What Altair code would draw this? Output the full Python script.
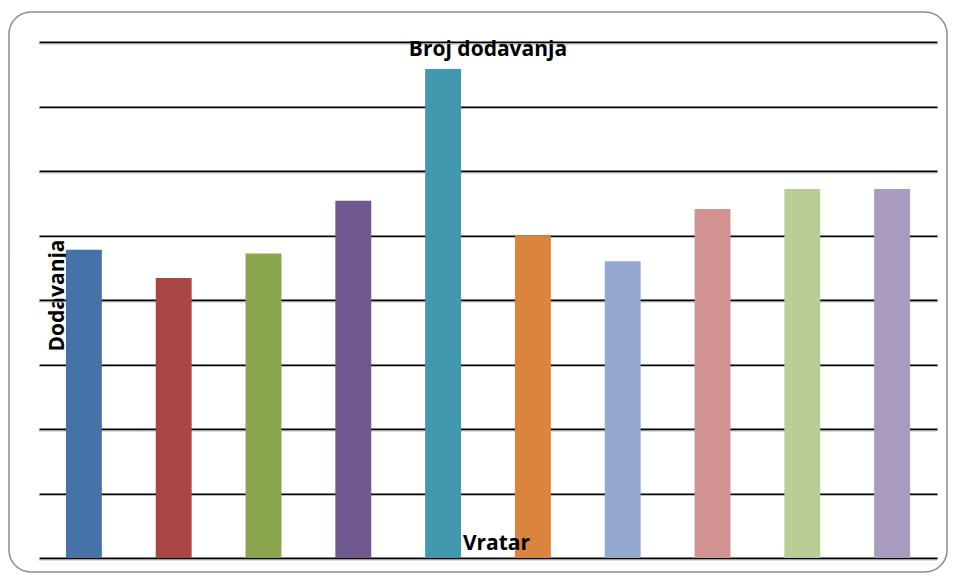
import altair as alt
import pandas as pd

vratari = ["V1", "V2", "V3", "V4", "V5", "V6", "V7", "V8", "V9", "V10"]
dodavanja = [23.9, 21.7, 23.6, 27.7, 37.9, 25.0, 23.0, 27.05, 28.6, 28.6]
boje = ["#4572A7", "#AA4643", "#89A54E", "#71588F", "#4198AF",
        "#DB843D", "#93A9CF", "#D19392", "#B9CD96", "#A99BBD"]
y_ticks = [0, 5, 10, 15, 20, 25, 30, 35, 40]

df = pd.DataFrame({"Vratar": vratari, "Dodavanja": dodavanja})

FONT = "Open Sans"
yscale = alt.Scale(domain=[0, 40], nice=False)

y_axis = alt.Axis(title="Dodavanja", values=y_ticks, labels=False,
                  ticks=False, domain=False, grid=True,
                  gridColor="black", gridWidth=2, gridOpacity=1,
                  titleFont=FONT, titleFontSize=21,
                  titleFontWeight="bold", titleColor="black",
                  titleBaseline="alphabetic", titleX=24, titleY=253,
                  titleAngle=-90)

border = alt.Chart(pd.DataFrame({"a": [0]})).mark_rect(
    filled=False, stroke="#8c8c8c", strokeWidth=1.5, cornerRadius=22
).encode(
    x=alt.value(-30), x2=alt.value(908), y=alt.value(-30), y2=alt.value(530)
)

shadow = alt.Chart(pd.DataFrame({"t": y_ticks})).mark_rule(
    color="#bdbdbd", strokeWidth=1, yOffset=2
).encode(y=alt.Y("t:Q", scale=yscale, axis=y_axis))

bars = alt.Chart(df).mark_bar().encode(
    x=alt.X("Vratar:N", sort=vratari,
            scale=alt.Scale(paddingInner=0.6, paddingOuter=0.3),
            axis=alt.Axis(title="Vratar", labels=False, ticks=False, domain=False,
                          grid=False, zindex=1, titleFont=FONT, titleFontSize=21,
                          titleFontWeight="bold", titleColor="black",
                          titleBaseline="alphabetic", titleX=457, titleY=-9,
                          titleAnchor="middle")),
    y=alt.Y("Dodavanja:Q", scale=yscale, axis=y_axis),
    color=alt.Color("Vratar:N", sort=vratari,
                    scale=alt.Scale(domain=vratari, range=boje), legend=None),
)

chart = alt.layer(border, shadow, bars).properties(
    width=898, height=516,
    title=alt.TitleParams("Broj dodavanja", font=FONT, fontSize=21,
                          fontWeight="bold", color="black", anchor="middle",
                          baseline="alphabetic", offset=-15, dy=51),
    autosize=alt.AutoSizeParams(type="none"),
    padding={"left": 31, "top": 34, "right": 11, "bottom": 15},
).configure(
    background="white"
).configure_view(
    stroke="transparent", strokeWidth=0
).configure_axis(
    domain=False
)

chart.save("out.html", embed_options={"renderer": "svg", "actions": False})
